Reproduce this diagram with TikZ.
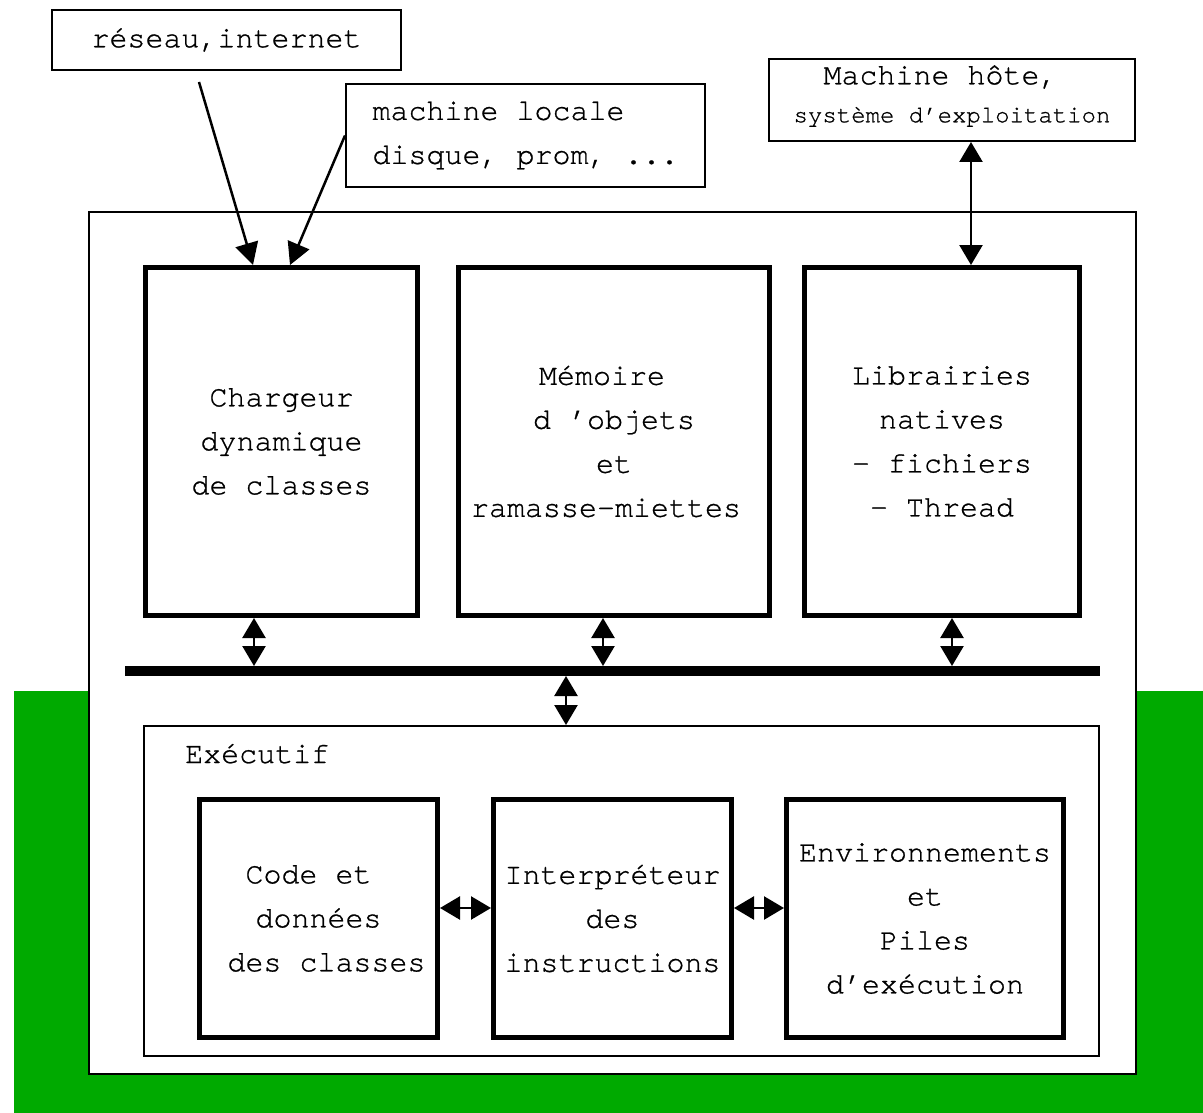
\documentclass[tikz,border=0pt]{standalone}
\usepackage{fontspec}
\newfontfamily\monof[Ligatures=NoCommon, FakeBold=0.8]{TeX Gyre Cursor}
\usetikzlibrary{arrows.meta}
\definecolor{bggreen}{RGB}{0,170,0}

\begin{document}
\begin{tikzpicture}[x=1pt,y=-1pt,
  txt/.style={font=\monof\fontsize{30}{44}\selectfont},
  thinbox/.style={draw, line width=2pt, inner sep=0pt, fill=white, txt},
  thickbox/.style={draw, line width=5pt, inner sep=0pt, fill=white, align=center, txt},
  link/.style={line width=2.5pt, {Triangle[length=20pt,width=23pt]}-{Triangle[length=20pt,width=23pt]}},
  feed/.style={line width=2.5pt, -{Triangle[length=22pt,width=23pt]}},
]
\useasboundingbox (0,0) rectangle (1203,1113);

% background band
\fill[bggreen] (14,691) rectangle (1203,1113);

% virtual machine frame
\node[thinbox, minimum width=1047pt, minimum height=862pt] (jvm) at (612.5,643) {};

% upper components
\node[thickbox, minimum width=272pt, minimum height=348pt] (chargeur) at (281.5,441.5)
  {Chargeur\\dynamique\\de classes};
\node[thickbox, minimum width=311pt, minimum height=348pt] (memoire) at (614,441.5)
  {Mémoire\hspace*{24pt}\\d ’objets\hspace*{8pt}\\et\hspace*{22pt}\\ramasse-miettes\hspace*{16pt}};
\node[thickbox, minimum width=275pt, minimum height=348pt] (libs) at (942,441.5)
  {Librairies\\natives\\- fichiers\\- Thread};

% internal bus
\node[fill=black, inner sep=0pt, outer sep=0pt, minimum width=975pt, minimum height=10pt] (bus) at (612.5,671) {};

% execution unit
\node[thinbox, minimum width=955pt, minimum height=330pt] (exec) at (621.5,891) {};
\node[txt, anchor=base west, inner sep=0pt] (execlabel) at (185,763) {Exécutif};

\node[thickbox, minimum width=238pt, minimum height=238pt] (code) at (318.5,918.5)
  {Code et\hspace*{20pt}\\données\\\hspace*{16pt}des classes};
\node[thickbox, minimum width=238pt, minimum height=238pt] (interp) at (612.5,918.5)
  {Interpréteur\\des\\instructions};
\node[thickbox, minimum width=277pt, minimum height=238pt] (env) at (925,918.5)
  {Environnements\\et\\Piles\hspace*{20pt}\\d’exécution};

% external sources
\node[thinbox, minimum width=349pt, minimum height=60pt] (reseau) at (226.5,40) {réseau,internet};
\node[thinbox, minimum width=359pt, minimum height=103pt, align=left] (mloc) at (525.5,135.5)
  {machine locale\\disque, prom, ...};
\node[thinbox, minimum width=366pt, minimum height=82pt] (hote) at (952,100) {};
\node[inner sep=0pt, align=center, font=\monof\fontsize{24}{38}\selectfont] (hotetxt) at (952,96)
  {{\fontsize{30}{38}\selectfont Machine hôte,}\hspace*{23pt}\\système d’exploitation};

% reference positions for connectors
\coordinate (netout) at (199,82);
\coordinate (xnet) at (253,0);
\coordinate (xloc) at (290,0);
\coordinate (xhost) at (971,0);
\coordinate (xch) at (254,0);
\coordinate (xmem) at (603,0);
\coordinate (xlib) at (952,0);
\coordinate (xexe) at (566,0);
\coordinate (yrow) at (0,908);

% class loading inputs
\draw[feed] (netout) -- (xnet |- chargeur.north);
\draw[feed] (mloc.west) -- (xloc |- chargeur.north);

% host system link
\draw[link] (xhost |- hote.south) -- (xhost |- libs.north);

% bus links
\draw[link] (xch |- chargeur.south) -- (xch |- bus.north);
\draw[link] (xmem |- memoire.south) -- (xmem |- bus.north);
\draw[link] (xlib |- libs.south) -- (xlib |- bus.north);
\draw[link] (xexe |- bus.south) -- (xexe |- exec.north);

% execution unit links
\draw[link] (code.east |- yrow) -- (interp.west |- yrow);
\draw[link] (interp.east |- yrow) -- (env.west |- yrow);
\end{tikzpicture}
\end{document}
